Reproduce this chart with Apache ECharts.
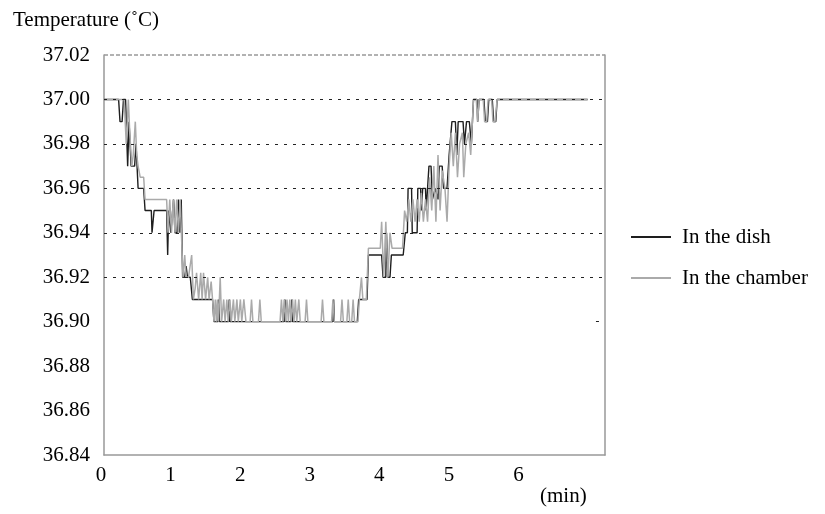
<!DOCTYPE html>
<html>
<head>
<meta charset="utf-8">
<title>Temperature in the dish and in the chamber</title>
<script src="https://cdn.jsdelivr.net/npm/echarts@6/dist/echarts.min.js"></script>
<style>
  html, body { margin: 0; padding: 0; background: #fff; }
  #chart { width: 825px; height: 514px; }
</style>
</head>
<body>
<div id="chart"></div>
<script>
// Data: [minutes, temperature]
var dishData = [
  [0, 37.00], [0.21, 37.00], [0.23, 36.99], [0.26, 36.99], [0.28, 37.00], [0.31, 37.00],
  [0.34, 36.97], [0.36, 36.99], [0.39, 36.97], [0.44, 36.97], [0.46, 36.98], [0.49, 36.96],
  [0.57, 36.96], [0.59, 36.95], [0.68, 36.95], [0.69, 36.94], [0.71, 36.94], [0.72, 36.95],
  [0.90, 36.95], [0.915, 36.93], [0.93, 36.95], [0.96, 36.94], [0.98, 36.94], [1.00, 36.955],
  [1.02, 36.94], [1.05, 36.94], [1.07, 36.955], [1.09, 36.94], [1.11, 36.955], [1.12, 36.955],
  [1.13, 36.92], [1.16, 36.92], [1.18, 36.925], [1.20, 36.92], [1.24, 36.92], [1.27, 36.91],
  [1.56, 36.91], [1.58, 36.90], [1.64, 36.90], [1.65, 36.91], [1.66, 36.90], [1.79, 36.90],
  [1.80, 36.91], [1.81, 36.90], [2.59, 36.90], [2.60, 36.91], [2.61, 36.90], [2.69, 36.90],
  [2.70, 36.91], [2.71, 36.90], [3.29, 36.90], [3.30, 36.91], [3.31, 36.90], [3.64, 36.90],
  [3.66, 36.91], [3.78, 36.91], [3.80, 36.93], [3.99, 36.93], [4.01, 36.92], [4.05, 36.92],
  [4.06, 36.94], [4.08, 36.92], [4.11, 36.92], [4.13, 36.93], [4.30, 36.93], [4.33, 36.94],
  [4.36, 36.94], [4.37, 36.96], [4.42, 36.96], [4.43, 36.94], [4.50, 36.94], [4.51, 36.96],
  [4.55, 36.96], [4.56, 36.95], [4.58, 36.96], [4.62, 36.96], [4.63, 36.95], [4.67, 36.97],
  [4.70, 36.97], [4.72, 36.955], [4.76, 36.96], [4.80, 36.955], [4.82, 36.97], [4.86, 36.97],
  [4.88, 36.96], [4.93, 36.96], [4.96, 36.975], [5.00, 36.99], [5.05, 36.99], [5.07, 36.975],
  [5.09, 36.99], [5.16, 36.99], [5.18, 36.98], [5.21, 36.99], [5.25, 36.99], [5.28, 36.98],
  [5.31, 37.00], [5.36, 37.00], [5.37, 36.99], [5.39, 37.00], [5.46, 37.00], [5.48, 36.99],
  [5.51, 36.99], [5.53, 37.00], [5.58, 37.00], [5.60, 36.99], [5.63, 36.99], [5.65, 37.00],
  [6.95, 37.00]
];

var chamberData = [
  [0, 37.00], [0.29, 37.00], [0.32, 36.98], [0.35, 37.00], [0.37, 36.985], [0.40, 36.97],
  [0.42, 36.975], [0.45, 36.99], [0.47, 36.975], [0.49, 36.97], [0.52, 36.965], [0.57, 36.965],
  [0.59, 36.955], [0.90, 36.955], [0.92, 36.94], [0.945, 36.955], [0.97, 36.94], [0.995, 36.955],
  [1.02, 36.94], [1.045, 36.955], [1.07, 36.94], [1.095, 36.955], [1.12, 36.955], [1.135, 36.92],
  [1.16, 36.93], [1.18, 36.92], [1.215, 36.92], [1.26, 36.93], [1.285, 36.91], [1.31, 36.915],
  [1.33, 36.922], [1.36, 36.91], [1.39, 36.922], [1.41, 36.91], [1.43, 36.922], [1.46, 36.91],
  [1.49, 36.92], [1.51, 36.91], [1.54, 36.918], [1.56, 36.91], [1.58, 36.90], [1.60, 36.91],
  [1.615, 36.90], [1.63, 36.91], [1.645, 36.90], [1.67, 36.92], [1.69, 36.90], [1.72, 36.91],
  [1.74, 36.90], [1.765, 36.91], [1.785, 36.90], [1.81, 36.91], [1.83, 36.90], [1.86, 36.91],
  [1.88, 36.90], [1.91, 36.91], [1.93, 36.90], [1.96, 36.91], [1.98, 36.90], [2.01, 36.91],
  [2.04, 36.90], [2.10, 36.90], [2.12, 36.91], [2.14, 36.90], [2.22, 36.90], [2.24, 36.91],
  [2.26, 36.90], [2.53, 36.90], [2.55, 36.91], [2.57, 36.90], [2.59, 36.91], [2.61, 36.90],
  [2.63, 36.91], [2.65, 36.90], [2.67, 36.91], [2.69, 36.90], [2.71, 36.91], [2.73, 36.90],
  [2.75, 36.91], [2.77, 36.90], [2.80, 36.91], [2.82, 36.90], [2.89, 36.90], [2.91, 36.91],
  [2.93, 36.90], [3.12, 36.90], [3.14, 36.91], [3.16, 36.90], [3.27, 36.90], [3.29, 36.91],
  [3.31, 36.90], [3.40, 36.90], [3.42, 36.91], [3.44, 36.90], [3.49, 36.90], [3.51, 36.91],
  [3.53, 36.90], [3.56, 36.90], [3.58, 36.91], [3.60, 36.90], [3.65, 36.90], [3.67, 36.91],
  [3.70, 36.92], [3.72, 36.91], [3.77, 36.91], [3.80, 36.933], [3.97, 36.933], [3.99, 36.945],
  [4.02, 36.92], [4.05, 36.945], [4.08, 36.92], [4.11, 36.94], [4.14, 36.933], [4.29, 36.933],
  [4.32, 36.95], [4.35, 36.945], [4.38, 36.955], [4.41, 36.945], [4.44, 36.955], [4.47, 36.945],
  [4.50, 36.955], [4.53, 36.945], [4.56, 36.958], [4.59, 36.945], [4.62, 36.955], [4.65, 36.945],
  [4.68, 36.965], [4.71, 36.95], [4.74, 36.97], [4.77, 36.945], [4.80, 36.975], [4.83, 36.95],
  [4.86, 36.968], [4.90, 36.96], [4.93, 36.945], [4.96, 36.97], [4.99, 36.985], [5.02, 36.97],
  [5.05, 36.985], [5.08, 36.965], [5.11, 36.98], [5.15, 36.985], [5.17, 36.965], [5.20, 36.98],
  [5.24, 36.985], [5.27, 36.975], [5.31, 37.00], [5.35, 37.00], [5.37, 36.99], [5.39, 37.00],
  [5.45, 37.00], [5.47, 36.99], [5.50, 36.99], [5.52, 37.00], [5.57, 37.00], [5.59, 36.99],
  [5.62, 36.99], [5.65, 37.00], [6.95, 37.00]
];

var seriesNames = ['In the dish', 'In the chamber'];
var gridLevels = [36.92, 36.94, 36.96, 36.98, 37.00];
var topLevel = 37.02;
var yMin = 36.84, yMax = 37.02, yStep = 0.02;
var xMin = 0, xMax = 7.2, xStep = 1, lastXLabel = 6;

var fontFamily = '"Liberation Serif", "Times New Roman", serif';
var fontSize = 21;

var chart = echarts.init(document.getElementById('chart'), null, { renderer: 'canvas' });

var option = {
    animation: false,
    textStyle: { fontFamily: fontFamily, color: '#000' },

    // Axis title
    title: {
        text: 'Temperature (\u02DAC)',
        left: 8,
        top: 5,
        textStyle: { fontFamily: fontFamily, fontSize: fontSize, fontWeight: 'normal', color: '#000' }
    },

    graphic: [{
        type: 'text',
        left: 540,
        top: 486,
        style: { text: '(min)', font: fontSize + 'px ' + fontFamily, fill: '#000' }
    }],

    legend: {
        orient: 'vertical',
        left: 626,
        top: 221,
        data: seriesNames,
        icon: 'rect',
        itemWidth: 40,
        itemHeight: 2,
        itemGap: 19,
        textStyle: { fontFamily: fontFamily, fontSize: fontSize, lineHeight: 22, color: '#000', padding: [0, 0, 0, 6] }
    },

    grid: { left: 104, right: 220, top: 55, bottom: 59 },

    xAxis: {
        type: 'value',
        min: xMin,
        max: xMax,
        interval: xStep,
        axisLine: { lineStyle: { color: '#999', width: 1.5 } },
        axisTick: { show: false },
        splitLine: { show: false },
        axisLabel: {
            fontFamily: fontFamily,
            fontSize: fontSize,
            color: '#000',
            margin: 10,
            padding: [0, 6, 0, 0],
            showMaxLabel: false,
            formatter: function (v) { return v > lastXLabel ? '' : String(v); }
        }
    },

    yAxis: [{
        type: 'value',
        min: yMin,
        max: yMax,
        interval: yStep,
        axisLine: { show: true, lineStyle: { color: '#999', width: 1.5 } },
        axisTick: { show: false },
        splitLine: { show: false },
        axisLabel: {
            fontFamily: fontFamily,
            fontSize: fontSize,
            color: '#000',
            margin: 14,
            formatter: function (v) { return v.toFixed(2); }
        }
    }, {
        type: 'value',
        position: 'right',
        min: yMin,
        max: yMax,
        interval: yStep,
        axisLine: { show: true, lineStyle: { color: '#999', width: 1.5 } },
        axisTick: { show: false },
        axisLabel: { show: false },
        splitLine: { show: false }
    }],

    series: [
        {
            // dotted reference levels, drawn under the data
            type: 'line',
            data: [],
            silent: true,
            markLine: {
                silent: true,
                symbol: ['none', 'none'],
                label: { show: false },
                lineStyle: { color: '#222', type: [3, 6], width: 1 },
                data: gridLevels.map(function (v) { return { yAxis: v }; }).concat([
                    { yAxis: topLevel, lineStyle: { color: '#999', type: [4, 2], width: 1.5 } },
                    [{ coord: [7.07, 36.90] }, { coord: [7.12, 36.90] }]
                ])
            }
        },
        {
            name: seriesNames[0],
            type: 'line',
            data: dishData,
            showSymbol: false,
            symbol: 'none',
            color: '#1e1e1e',
            lineStyle: { color: '#1e1e1e', width: 1.4 }
        },
        {
            name: seriesNames[1],
            type: 'line',
            data: chamberData,
            showSymbol: false,
            symbol: 'none',
            color: '#aaaaaa',
            lineStyle: { color: '#aaaaaa', width: 1.5 }
        }
    ]
};

chart.setOption(option);

window.onresize = function () {
    chart.resize();
};
</script>
</body>
</html>
